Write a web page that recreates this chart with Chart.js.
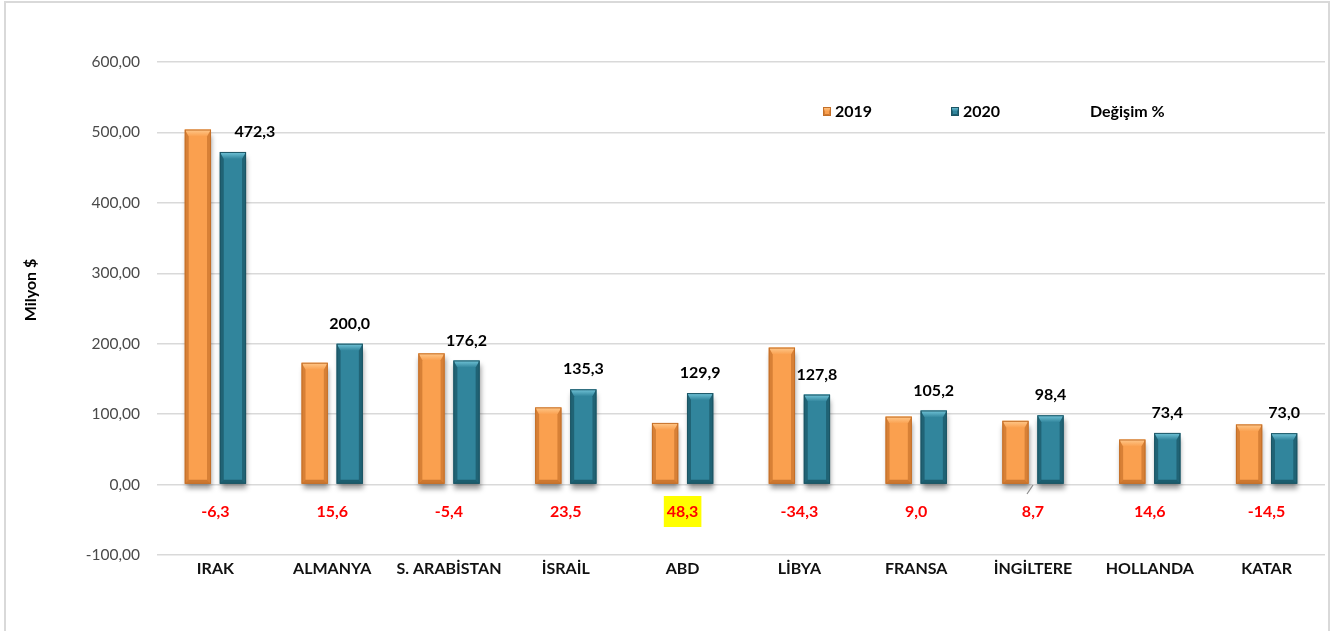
<!DOCTYPE html>
<html><head><meta charset="utf-8">
<script src="https://cdn.jsdelivr.net/npm/chart.js@4.4.1/dist/chart.umd.min.js"></script>
<style>html,body{margin:0;padding:0;background:#fff;overflow:hidden}canvas{display:block}</style>
</head><body>
<canvas id="c" width="1333" height="631"></canvas>
<script>
const categories = ["IRAK","ALMANYA","S. ARABİSTAN","İSRAİL","ABD","LİBYA","FRANSA","İNGİLTERE","HOLLANDA","KATAR"];
const values2019 = [504.1,173.0,186.3,109.6,87.6,194.5,96.5,90.5,64.0,85.4];
const values2020 = [472.3,200.0,176.2,135.3,129.9,127.8,105.2,98.4,73.4,73.0];
const changePct = [-6.3,15.6,-5.4,23.5,48.3,-34.3,9.0,8.7,14.6,-14.5];
const seriesLabels = ["2019","2020","Değişim %"];
const yTickValues = [-100,0,100,200,300,400,500,600];
const yAxisTitle = "Milyon $";

const FONT = 'Lato, "Liberation Sans", sans-serif';
const fmt1 = v => v.toFixed(1).replace('.', ',');
const fmt2 = v => v.toFixed(2).replace('.', ',');

const palettes = [
  {body:'#FAA04F', border:'#C46F28', top:'#FFC98C', side:'rgba(150,70,10,0.35)', bottom:'rgba(150,70,10,0.45)'},
  {body:'#31859C', border:'#1B5463', top:'#74C6DA', side:'rgba(5,45,55,0.38)', bottom:'rgba(5,45,55,0.45)'}
];

function bevel(ctx, left, right, top, bottom, p){
  const b = Math.min(4, (right-left)/4);
  const bt = Math.min(7, (bottom-top)/2);
  ctx.save();
  const g = ctx.createLinearGradient(0, top, 0, top+bt);
  g.addColorStop(0, p.top); g.addColorStop(1, p.body);
  ctx.fillStyle = g;
  ctx.beginPath(); ctx.moveTo(left, top); ctx.lineTo(right, top); ctx.lineTo(right-b, top+bt); ctx.lineTo(left+b, top+bt); ctx.closePath(); ctx.fill();
  ctx.fillStyle = p.side;
  ctx.beginPath(); ctx.moveTo(left, top); ctx.lineTo(left+b, top+bt); ctx.lineTo(left+b, bottom-b); ctx.lineTo(left, bottom); ctx.closePath(); ctx.fill();
  ctx.beginPath(); ctx.moveTo(right, top); ctx.lineTo(right-b, top+bt); ctx.lineTo(right-b, bottom-b); ctx.lineTo(right, bottom); ctx.closePath(); ctx.fill();
  ctx.fillStyle = p.bottom;
  ctx.beginPath(); ctx.moveTo(left, bottom); ctx.lineTo(left+b, bottom-b); ctx.lineTo(right-b, bottom-b); ctx.lineTo(right, bottom); ctx.closePath(); ctx.fill();
  ctx.strokeStyle = p.border; ctx.lineWidth = 1;
  ctx.strokeRect(left+0.5, top+0.5, right-left-1, bottom-top-1);
  ctx.restore();
}

const decor = {
  id: 'decor',
  beforeDraw(chart){
    const ctx = chart.ctx;
    ctx.save();
    ctx.fillStyle = '#fff'; ctx.fillRect(0,0,chart.width,chart.height);
    ctx.strokeStyle = '#d9d9d9'; ctx.lineWidth = 2;
    ctx.strokeRect(5, 2, 1324, 700);
    ctx.restore();
  },
  beforeDatasetDraw(chart, args){
    if (chart.data.datasets[args.index].type === 'line') return;
    const ctx = chart.ctx;
    ctx.save();
    ctx.shadowColor = 'rgba(0,0,0,0.38)';
    ctx.shadowBlur = 5; ctx.shadowOffsetX = 1; ctx.shadowOffsetY = 5;
  },
  afterDatasetDraw(chart, args){
    if (chart.data.datasets[args.index].type === 'line') return;
    const ctx = chart.ctx;
    ctx.restore();
    const p = palettes[args.index];
    args.meta.data.forEach(el => {
      const {x, y, base, width} = el.getProps(['x','y','base','width'], true);
      bevel(ctx, x-width/2, x+width/2, Math.min(y,base), Math.max(y,base), p);
    });
  },
  afterDraw(chart){
    const ctx = chart.ctx;
    const xs = chart.scales.x;
    ctx.save();
    const m1 = chart.getDatasetMeta(1);
    ctx.font = 'bold 16px ' + FONT; ctx.fillStyle = '#000';
    ctx.textAlign = 'center'; ctx.textBaseline = 'middle';
    m1.data.forEach((el, i) => {
      const shift = (i === 0) ? 22 : 0;
      ctx.fillText(fmt1(values2020[i]), el.x + shift, el.y - 20);
    });
    const maxIdx = changePct.indexOf(Math.max(...changePct));
    changePct.forEach((v, i) => {
      const cx = xs.getPixelForValue(i);
      const t = fmt1(v);
      if (i === maxIdx) {
        const w = ctx.measureText(t).width;
        ctx.fillStyle = '#FFFF00';
        ctx.fillRect(cx - w/2 - 3, 496, w + 6, 31);
      }
      ctx.fillStyle = '#FF0000';
      ctx.fillText(t, cx, 512);
    });
    const li = categories.indexOf('İNGİLTERE');
    const lx = xs.getPixelForValue(li);
    ctx.strokeStyle = '#8c8c8c'; ctx.lineWidth = 1.2;
    ctx.beginPath(); ctx.moveTo(lx-6, 494); ctx.lineTo(lx, 485); ctx.stroke();
    ctx.font = 'bold 16px ' + FONT; ctx.textAlign = 'left'; ctx.fillStyle = '#000';
    const legendItems = [{mx:823, tx:835}, {mx:951, tx:963}, {mx:null, tx:1090}];
    legendItems.forEach((it, i) => {
      if (it.mx !== null) bevelMarker(ctx, it.mx, 107, palettes[i]);
      ctx.fillStyle = '#000';
      ctx.fillText(seriesLabels[i], it.tx, 112);
    });
    ctx.translate(31, 290); ctx.rotate(-Math.PI/2);
    ctx.font = 'bold 16px ' + FONT; ctx.textAlign = 'center';
    ctx.fillText(yAxisTitle, 0, 0);
    ctx.restore();
  }
};
function bevelMarker(ctx, x, y, p){
  ctx.fillStyle = p.body; ctx.fillRect(x, y, 8, 9);
  bevel(ctx, x, x+8, y, y+9, p);
}

new Chart(document.getElementById('c'), {
  type: 'bar',
  data: {
    labels: categories,
    datasets: [
      {label: seriesLabels[0], data: values2019, backgroundColor: palettes[0].body, borderWidth: 0, categoryPercentage: 0.6, barPercentage: 0.75},
      {label: seriesLabels[1], data: values2020, backgroundColor: palettes[1].body, borderWidth: 0, categoryPercentage: 0.6, barPercentage: 0.75},
      {type: 'line', label: seriesLabels[2], data: changePct, showLine: false, pointRadius: 0, pointHoverRadius: 0}
    ]
  },
  options: {
    responsive: false, animation: false, devicePixelRatio: 1,
    layout: {padding: {top: 62, right: 8, bottom: 0, left: 0}},
    plugins: {legend: {display: false}, tooltip: {enabled: false}},
    scales: {
      x: {
        grid: {display: false, drawTicks: false},
        border: {display: false},
        ticks: {font: {family: FONT, size: 16, weight: 'bold'}, color: '#111', padding: 4, maxRotation: 0, autoSkip: false},
        afterFit(s){ s.height = 76; }
      },
      y: {
        min: -100, max: 600,
        afterBuildTicks(s){ s.ticks = yTickValues.map(v => ({value: v})); },
        grid: {color: '#d9d9d9', lineWidth: 1.5, drawTicks: false},
        border: {display: false},
        ticks: {font: {family: FONT, size: 15.5}, color: '#4a4a4a', padding: 17, callback: v => fmt2(v)},
        afterFit(s){ s.width = 157; }
      }
    }
  },
  plugins: [decor]
});
</script>
</body></html>
